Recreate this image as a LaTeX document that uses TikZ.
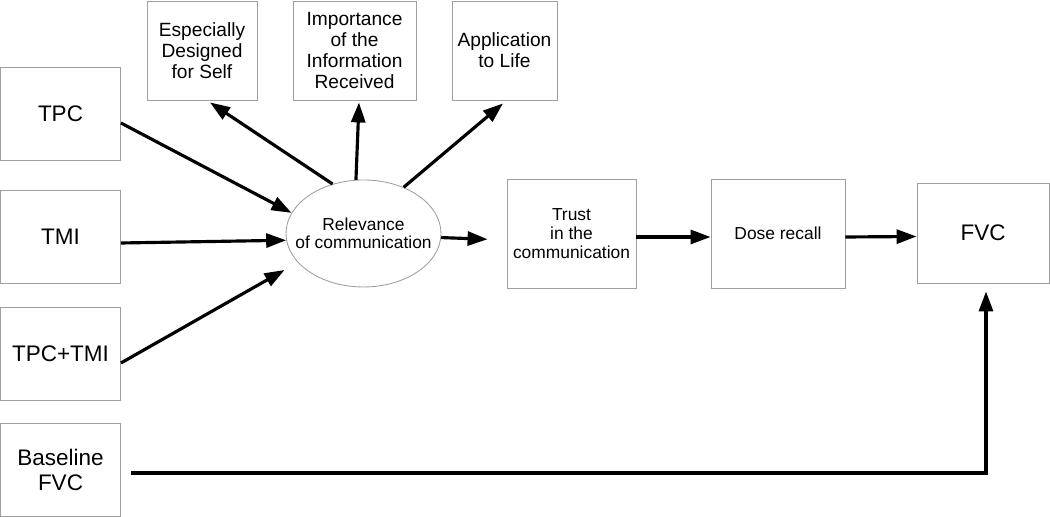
\documentclass[tikz,border=0pt]{standalone}
\usepackage{fontspec}
\setmainfont{Liberation Sans}
\usetikzlibrary{arrows.meta,shapes.geometric}

\begin{document}
\begin{tikzpicture}[>={Triangle[length=0.4cm,width=0.28cm]},
  box/.style={draw=gray!75, line width=0.5pt, align=center, inner sep=0pt},
  leftbox/.style={box, minimum width=2.4cm, minimum height=1.86cm, font=\fontsize{12.8}{14.2}\selectfont},
  outbox/.style={box, minimum height=1.98cm, font=\fontsize{10.9}{12}\selectfont},
  chainbox/.style={box, minimum height=2.18cm, font=\fontsize{9.9}{10.9}\selectfont},
  link/.style={->, line width=1.8pt}]
\useasboundingbox (0,0) rectangle (21,10.34);
% sources
\node[leftbox] (tpc) at (1.21,8.07) {TPC};
\node[leftbox] (tmi) at (1.21,5.61) {TMI};
\node[leftbox] (both) at (1.21,3.27) {TPC+TMI};
\node[leftbox] (base) at (1.21,0.94) {Baseline\\FVC};
% outcomes of relevance
\node[outbox, minimum width=2.2cm] (self) at (4.04,9.33) {Especially\\Designed\\for Self};
\node[outbox, minimum width=2.46cm] (info) at (7.09,9.33) {Importance\\of the\\Information\\Received};
\node[outbox, minimum width=2.1cm] (life) at (10.09,9.33) {Application\\to Life};
\node[ellipse, draw=gray!75, line width=0.5pt, minimum width=3.1cm, minimum height=2.14cm, inner sep=0pt,
  label={[align=center, font=\fontsize{9.9}{10.4}\selectfont]center:Relevance\\of communication}] (rel) at (7.27,5.67) {};
% chain
\node[chainbox, minimum width=2.58cm] (trust) at (11.43,5.67) {Trust\\in the\\communication};
\node[chainbox, minimum width=2.68cm] (dose) at (15.56,5.67) {Dose recall};
\node[box, minimum width=2.64cm, minimum height=2cm, font=\fontsize{12.8}{14.2}\selectfont] (fvc) at (19.66,5.68) {FVC};

\draw[link] ([yshift=-0.19cm]tpc.east) -- (rel.164);
\draw[link] ([yshift=-0.13cm]tmi.east) -- (rel.185);
\draw[link] ([yshift=-0.19cm]both.east) -- ([xshift=-0.02cm,yshift=-0.73cm]rel.west);
\draw[link] (rel.122) -- ([xshift=0.16cm,yshift=-0.04cm]self.south);
\draw[link] (rel.98) -- ([xshift=0.09cm,yshift=-0.04cm]info.south);
\draw[link] (rel.49) -- ([xshift=-0.03cm,yshift=-0.06cm]life.south);
\draw[link, shorten >=0.38cm] (rel.357) -- ([yshift=-0.13cm]trust.west);
\draw[link] ([yshift=-0.07cm]trust.east) -- ([yshift=-0.07cm]dose.west);
\draw[link] ([yshift=-0.07cm]dose.east) -- ([yshift=-0.07cm]fvc.west);
\draw[link, shorten >=0.16cm] ([xshift=0.2cm,yshift=-0.06cm]base.east) -| ([xshift=0.06cm]fvc.south);
\end{tikzpicture}
\end{document}
